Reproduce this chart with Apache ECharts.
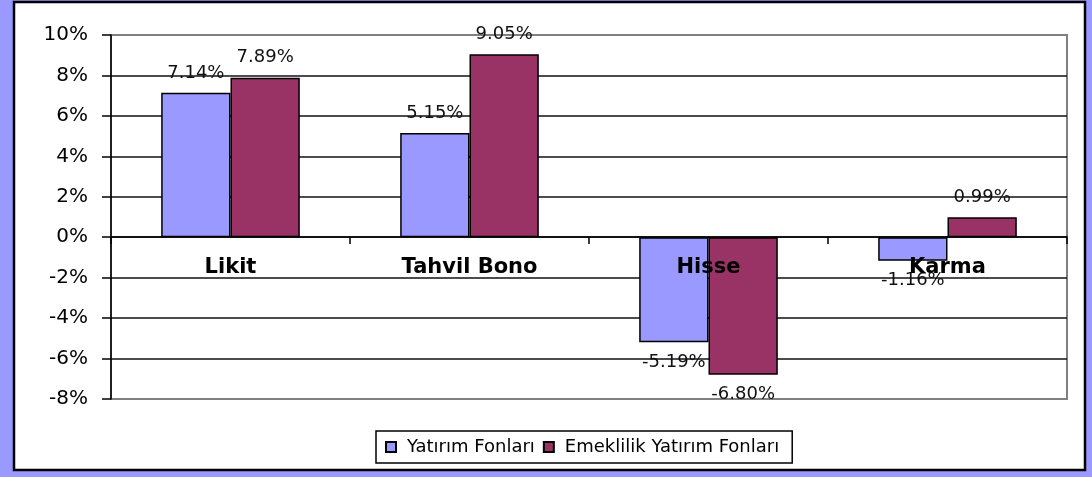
<!DOCTYPE html>
<html>
<head>
<meta charset="utf-8">
<script src="https://cdn.jsdelivr.net/npm/echarts@6/dist/echarts.min.js"></script>
<style>
  html, body { margin: 0; padding: 0; background: #9999ff; }
  #main { width: 1092px; height: 477px; }
</style>
</head>
<body>
<div id="main"></div>
<script type="text/javascript">
var categories = ['Likit', 'Tahvil Bono', 'Hisse', 'Karma'];
var yatirimFonlari = [7.14, 5.15, -5.19, -1.16];
var emeklilikFonlari = [7.89, 9.05, -6.80, 0.99];
var seriesNames = ['Yatırım Fonları', 'Emeklilik Yatırım Fonları'];

var FONT = '"DejaVu Sans", Arial, sans-serif';

// negatif degerlerde etiket cubugun altina
function toData(arr) {
    return arr.map(function (v) {
        return { value: v, label: { position: v < 0 ? 'bottom' : 'top' } };
    });
}

function barSeries(name, arr, color) {
    return {
        type: 'bar',
        name: name,
        data: toData(arr),
        barGap: 0,
        barCategoryGap: '42%',
        itemStyle: { color: color, borderColor: '#000', borderWidth: 1.5 },
        label: {
            show: true,
            distance: 11,
            color: '#111',
            fontFamily: FONT,
            fontSize: 18,
            formatter: function (p) { return p.value.toFixed(2) + '%'; }
        }
    };
}

var splitColors = ['#808080', '#111', '#111', '#111', '#111', '#111', '#111', '#111', '#111', '#808080'];

var myChart = echarts.init(document.getElementById('main'));

var option = {
    backgroundColor: '#9999ff',
    animation: false,
    graphic: [{
        type: 'rect',
        z: -100,
        shape: { x: 14, y: 2, width: 1071, height: 468 },
        style: { fill: '#fff', stroke: '#000', lineWidth: 2.5 }
    }],
    grid: {
        left: 111, right: 25, top: 35, bottom: 78,
        show: true,
        borderColor: '#808080',
        borderWidth: 2,
        backgroundColor: 'transparent'
    },
    legend: {
        data: seriesNames,
        left: 376,
        top: 431,
        orient: 'horizontal',
        itemWidth: 10,
        itemHeight: 10,
        itemGap: 8,
        padding: [7, 13, 7, 9],
        borderColor: '#000',
        borderWidth: 1.5,
        icon: 'rect',
        textStyle: { color: '#000', fontFamily: FONT, fontSize: 18, padding: [0, 0, 0, 6] }
    },
    xAxis: {
        type: 'category',
        data: categories,
        z: 10,
        // eksen cizgisi sifirda, etiketler hemen altinda
        offset: -162,
        axisLine: { onZero: false, lineStyle: { color: '#000', width: 1.5 } },
        axisTick: { show: true, length: 7, lineStyle: { color: '#000', width: 1.5 } },
        axisLabel: {
            margin: 20,
            color: '#000',
            fontFamily: FONT,
            fontWeight: 'bold',
            fontSize: 21
        },
        splitLine: { show: false }
    },
    yAxis: {
        type: 'value',
        min: -8,
        max: 10,
        interval: 2,
        axisLine: { show: true, lineStyle: { color: '#000', width: 1.5 } },
        axisTick: { show: true, length: 9, lineStyle: { color: '#000', width: 1.5 } },
        axisLabel: {
            margin: 23,
            color: '#000',
            fontFamily: FONT,
            fontSize: 20,
            formatter: '{value}%'
        },
        splitLine: { show: true, lineStyle: { color: splitColors, width: 1.5 } }
    },
    series: [
        barSeries(seriesNames[0], yatirimFonlari, '#9999ff'),
        barSeries(seriesNames[1], emeklilikFonlari, '#993366')
    ]
};

myChart.setOption(option);
</script>
</body>
</html>
